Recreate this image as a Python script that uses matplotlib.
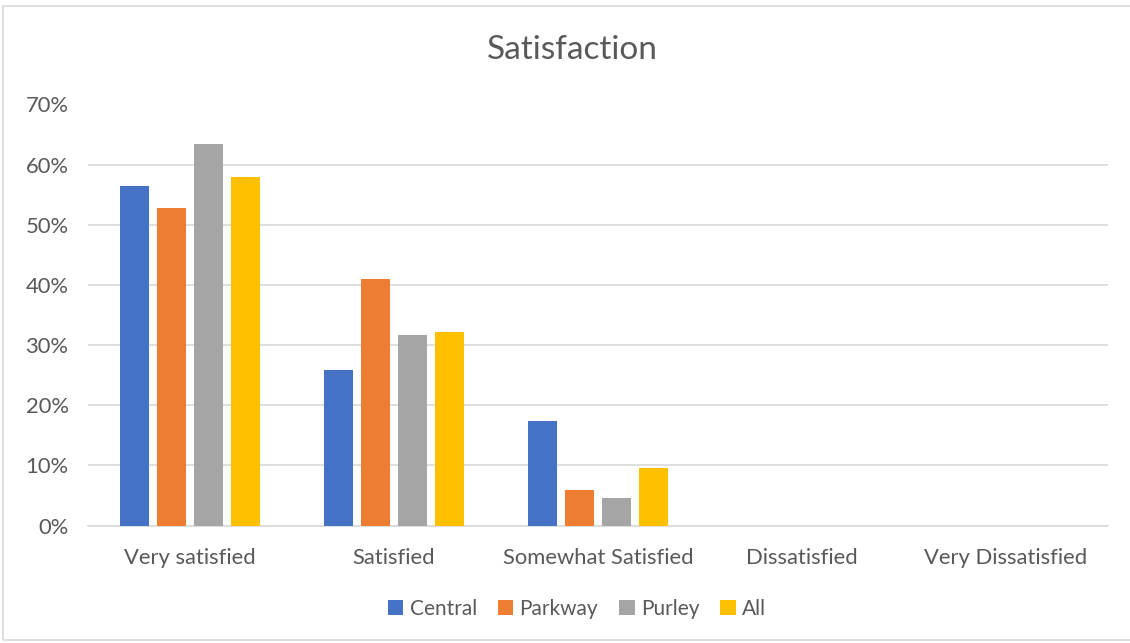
import matplotlib
matplotlib.use("Agg")
import matplotlib.pyplot as plt
from matplotlib.patches import Rectangle
from matplotlib.ticker import FuncFormatter, MultipleLocator
import numpy as np

categories = ["Very satisfied", "Satisfied", "Somewhat Satisfied", "Dissatisfied", "Very Dissatisfied"]
series_names = ["Central", "Parkway", "Purley", "All"]
central = [0.564, 0.259, 0.173, 0.0, 0.0]
parkway = [0.528, 0.410, 0.059, 0.0, 0.0]
purley = [0.635, 0.316, 0.045, 0.0, 0.0]
all_ = [0.579, 0.321, 0.096, 0.0, 0.0]
colors = ["#4472C4", "#ED7D31", "#A5A5A5", "#FFC000"]

plt.rcParams['font.family'] = ['Lato', 'DejaVu Sans']
txt = "#595959"

W, H = 1130, 643
fig = plt.figure(figsize=(W/100, H/100), dpi=100)
fig.patches.append(Rectangle((3/W, 3/H), 1.2, (H-9)/H, transform=fig.transFigure,
                             fill=False, edgecolor="#D9D9D9", linewidth=1.2))
ax = fig.add_axes([88/W, 1-525.5/H, 1020/W, 421/H])

x = np.arange(len(categories))
bw = 0.142
step = 0.181
for i, (vals, name) in enumerate(zip([central, parkway, purley, all_], series_names)):
    ax.bar(x + (i-1.5)*step, vals, bw, color=colors[i], label=name, zorder=3)

ax.set_xlim(-0.5, len(categories)-0.5)
ax.set_ylim(0, 0.70)
ax.yaxis.set_major_locator(MultipleLocator(0.10))
ax.yaxis.set_major_formatter(FuncFormatter(lambda v, p: f"{v*100:.0f}%"))
ax.grid(axis='y', color="#D9D9D9", linewidth=1.2, zorder=0)
for s in ["top", "right", "left"]:
    ax.spines[s].set_visible(False)
ax.spines["bottom"].set_color("#D9D9D9")
ax.spines["bottom"].set_linewidth(1.2)
ax.set_xticks(x)
ax.set_xticklabels(categories)
ax.tick_params(axis='both', length=0, labelsize=15.8, colors=txt)
ax.tick_params(axis='x', pad=16)
ax.tick_params(axis='y', pad=14)

fig.text(572/W, 1-50/H, "Satisfaction", ha="center", va="center", fontsize=24, color=txt)
fig.legend(loc="center", bbox_to_anchor=(577/W, 1-609/H), ncol=4, frameon=False,
           fontsize=15, labelcolor=txt, handlelength=0.75, handleheight=0.75,
           handletextpad=0.3, columnspacing=1.0)

fig.savefig("out.png", dpi=100)
